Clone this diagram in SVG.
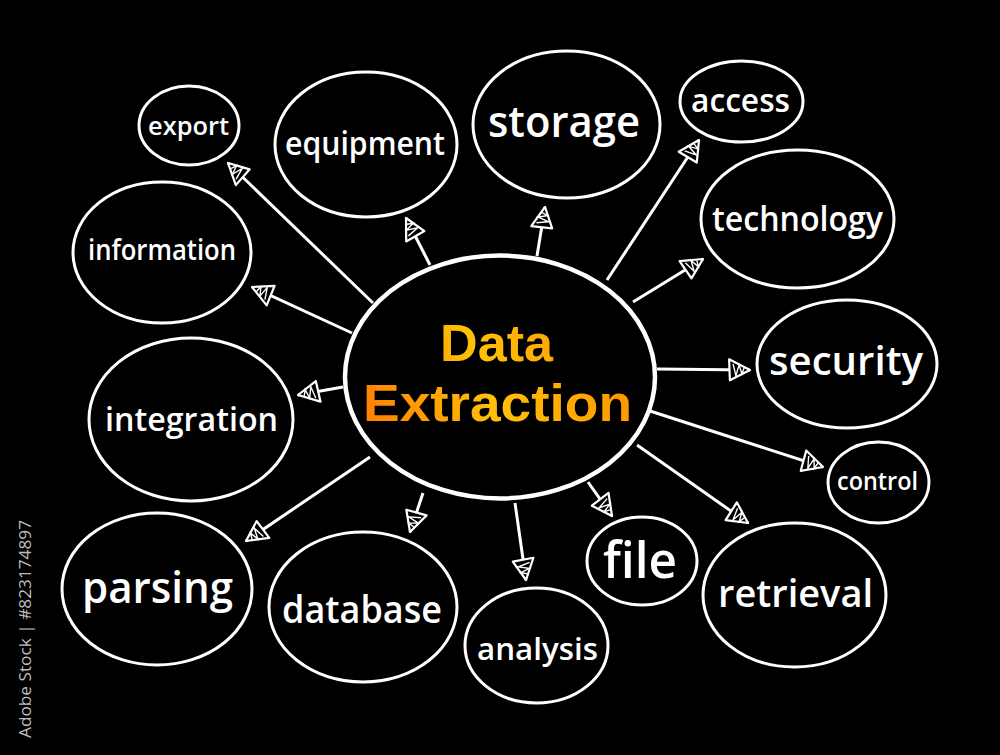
<svg xmlns="http://www.w3.org/2000/svg" width="1000" height="755" viewBox="0 0 1000 755">
<defs>
<style>
.node{fill:none;stroke:#fff;stroke-width:3}
.lbl{fill:#fff;font-family:"Open Sans","Liberation Sans",sans-serif;font-weight:600;text-anchor:middle}
.conn line{stroke:#fff;stroke-width:3;marker-end:url(#ah)}
.title{font-family:"Liberation Sans",Arial,sans-serif;font-weight:700;text-anchor:middle;fill:url(#tg)}
</style>
<linearGradient id="tg" gradientUnits="userSpaceOnUse" x1="370" y1="420" x2="630" y2="330">
<stop offset="0" stop-color="#ff8200"/>
<stop offset="0.45" stop-color="#ffc107"/>
<stop offset="1" stop-color="#ff9000"/>
</linearGradient>
<marker id="ah" markerUnits="userSpaceOnUse" markerWidth="30" markerHeight="30" viewBox="-4 -15 30 30" refX="21" refY="0" orient="auto">
<path d="M21,0 L0,-10.5 L1,10.5 Z" fill="#000" stroke="#fff" stroke-width="2.2" stroke-linejoin="round"/>
<path d="M4,-6 L7,6 L10,-5 L13,4 L15,-2" fill="none" stroke="#fff" stroke-width="1.4"/>
</marker>
</defs>
<rect width="1000" height="755" fill="#000"/>

<g id="connectors" class="conn">
<line x1="373" y1="303" x2="228" y2="163"/>
<line x1="430" y1="265" x2="406" y2="218"/>
<line x1="352" y1="333" x2="252" y2="287"/>
<line x1="537" y1="256" x2="545" y2="207"/>
<line x1="607" y1="280" x2="699" y2="140"/>
<line x1="633" y1="302" x2="703" y2="259"/>
<line x1="343" y1="387" x2="298" y2="395"/>
<line x1="370" y1="457" x2="246" y2="541"/>
<line x1="423" y1="493" x2="410" y2="532"/>
<line x1="657" y1="369" x2="750" y2="370"/>
<line x1="650" y1="411" x2="823" y2="467"/>
<line x1="637" y1="445" x2="748" y2="523"/>
<line x1="588" y1="482" x2="612" y2="516"/>
<line x1="515" y1="503" x2="526" y2="580"/>
</g>

<g id="center">
<ellipse cx="500" cy="377" rx="155" ry="121.5" fill="#000" stroke="#fff" stroke-width="4.5"/>
<text class="title" font-size="52"><tspan x="496.5" y="361" textLength="113" lengthAdjust="spacingAndGlyphs">Data</tspan><tspan x="497.5" y="421" textLength="269" lengthAdjust="spacingAndGlyphs">Extraction</tspan></text>
</g>

<g id="export"><ellipse class="node" cx="189" cy="125.5" rx="50" ry="39.5"/><text class="lbl" x="188.5" y="135" font-size="26" textLength="81" lengthAdjust="spacingAndGlyphs">export</text></g>
<g id="equipment"><ellipse class="node" cx="366" cy="144.5" rx="91" ry="72.5"/><text class="lbl" x="365" y="155" font-size="32" textLength="160" lengthAdjust="spacingAndGlyphs">equipment</text></g>
<g id="storage"><ellipse class="node" cx="566.5" cy="124.5" rx="93.5" ry="73.5"/><text class="lbl" x="564" y="137" font-size="44" textLength="152" lengthAdjust="spacingAndGlyphs">storage</text></g>
<g id="access"><ellipse class="node" cx="741.5" cy="101.5" rx="61.5" ry="40.5"/><text class="lbl" x="740.5" y="112" font-size="32" textLength="99" lengthAdjust="spacingAndGlyphs">access</text></g>
<g id="technology"><ellipse class="node" cx="797.5" cy="219" rx="96.5" ry="69"/><text class="lbl" x="797.5" y="231" font-size="34" textLength="171" lengthAdjust="spacingAndGlyphs">technology</text></g>
<g id="information"><ellipse class="node" cx="162" cy="252.5" rx="89" ry="70.5"/><text class="lbl" x="162" y="260" font-size="28" textLength="148" lengthAdjust="spacingAndGlyphs">information</text></g>
<g id="integration"><ellipse class="node" cx="191" cy="419.5" rx="102" ry="81.5"/><text class="lbl" x="191.5" y="431" font-size="33" textLength="173" lengthAdjust="spacingAndGlyphs">integration</text></g>
<g id="parsing"><ellipse class="node" cx="157" cy="589" rx="95" ry="76"/><text class="lbl" x="157.5" y="603" font-size="43" textLength="151" lengthAdjust="spacingAndGlyphs">parsing</text></g>
<g id="database"><ellipse class="node" cx="363" cy="607" rx="94" ry="75"/><text class="lbl" x="362" y="623" font-size="37" textLength="160" lengthAdjust="spacingAndGlyphs">database</text></g>
<g id="analysis"><ellipse class="node" cx="536.5" cy="645.5" rx="71.5" ry="57.5"/><text class="lbl" x="537.5" y="660" font-size="31" textLength="121" lengthAdjust="spacingAndGlyphs">analysis</text></g>
<g id="file"><ellipse class="node" cx="642" cy="561" rx="55" ry="44"/><text class="lbl" x="640" y="578" font-size="50" textLength="74" lengthAdjust="spacingAndGlyphs">file</text></g>
<g id="retrieval"><ellipse class="node" cx="794.5" cy="595" rx="91.5" ry="72"/><text class="lbl" x="795.5" y="607" font-size="38" textLength="155" lengthAdjust="spacingAndGlyphs">retrieval</text></g>
<g id="security"><ellipse class="node" cx="847" cy="364" rx="90" ry="64"/><text class="lbl" x="846" y="375" font-size="40" textLength="154" lengthAdjust="spacingAndGlyphs">security</text></g>
<g id="control"><ellipse class="node" cx="878.5" cy="482.5" rx="50.5" ry="40.5"/><text class="lbl" x="877.5" y="490" font-size="25" textLength="81" lengthAdjust="spacingAndGlyphs">control</text></g>

<text x="31" y="629" transform="rotate(-90 31 629)" font-family="'Open Sans','Liberation Sans',sans-serif" font-size="17" fill="#bdbdbd" text-anchor="middle" textLength="218" lengthAdjust="spacingAndGlyphs">Adobe Stock | #823174897</text>
</svg>
